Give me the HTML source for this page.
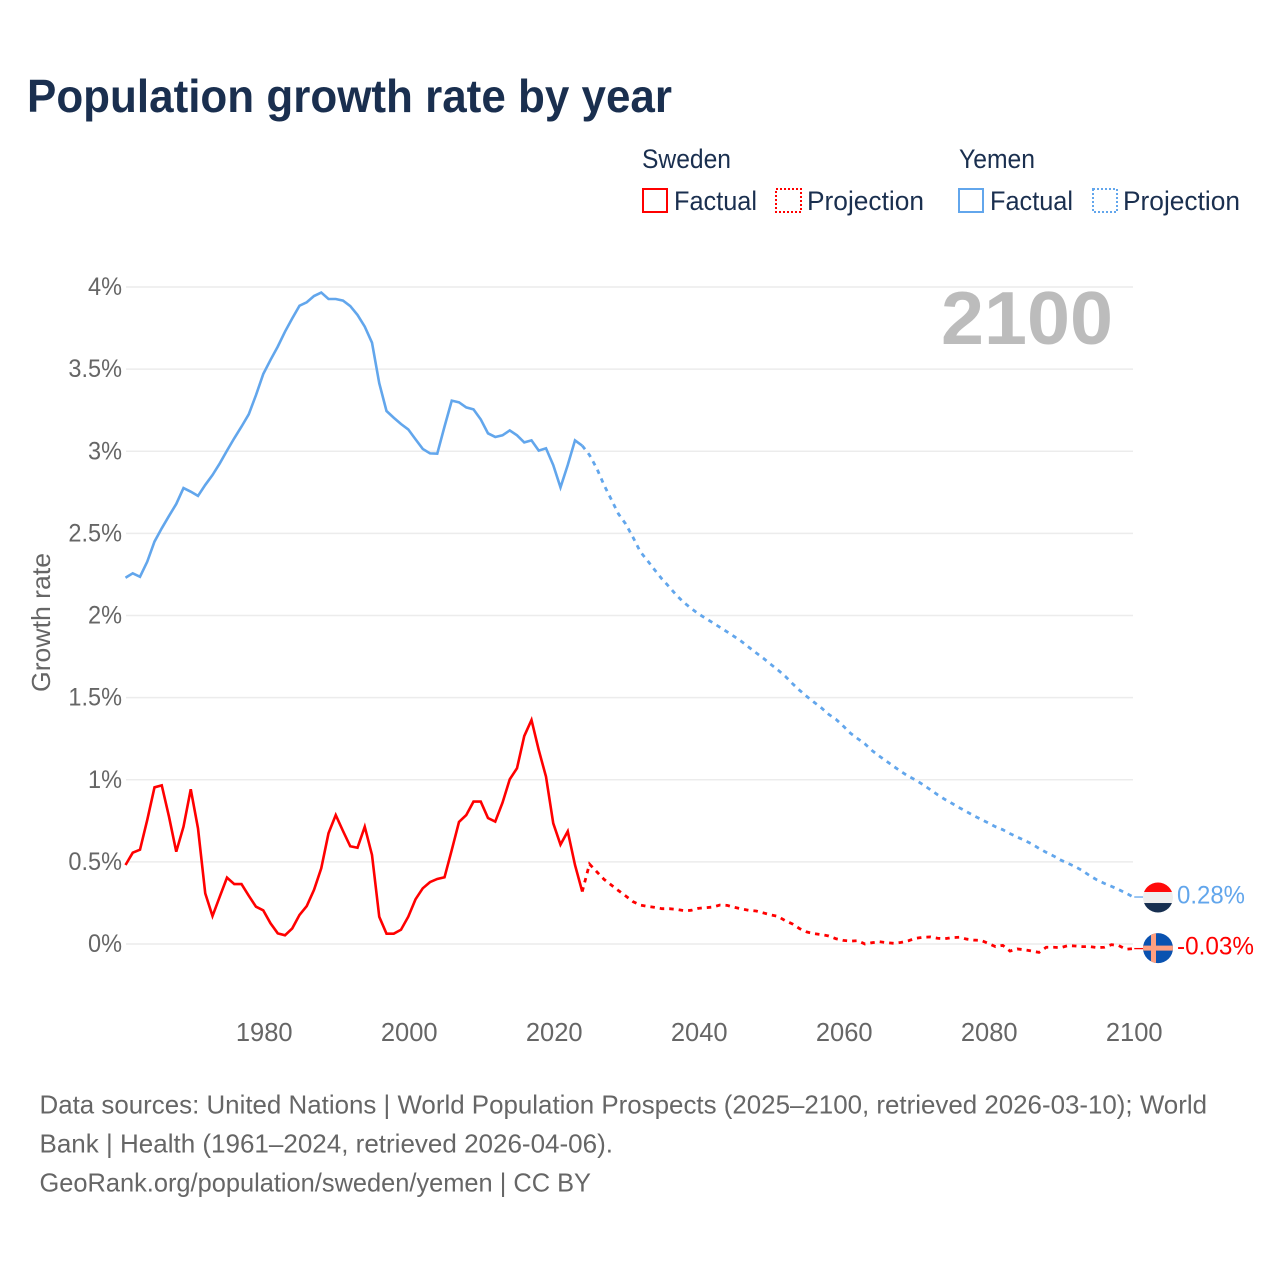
<!DOCTYPE html>
<html lang="en">
<head>
<meta charset="utf-8">
<title>Population growth rate by year</title>
<style>
html,body{margin:0;padding:0;background:#fff;}
svg{display:block;font-family:"Liberation Sans",sans-serif;}
</style>
</head>
<body>
<svg id="chart" xmlns="http://www.w3.org/2000/svg" width="1280" height="1280" viewBox="0 0 1280 1280">
  <rect x="0" y="0" width="1280" height="1280" fill="#ffffff"/>
  <text x="27" y="112" font-size="46" font-weight="700" fill="#1a2f4f" textLength="645" lengthAdjust="spacingAndGlyphs">Population growth rate by year</text>

  <g font-size="26.5" fill="#1a2f4f">
    <text x="642" y="168" textLength="89" lengthAdjust="spacingAndGlyphs">Sweden</text>
    <text x="959" y="168" textLength="76" lengthAdjust="spacingAndGlyphs">Yemen</text>
    <g>
      <rect x="643" y="189" width="24" height="23" fill="none" stroke="#ff0000" stroke-width="2"/>
      <text x="674" y="210" textLength="83" lengthAdjust="spacingAndGlyphs">Factual</text>
    </g>
    <g>
      <rect x="776" y="189" width="25" height="23" fill="none" stroke="#ff0000" stroke-width="2" stroke-dasharray="2 2"/>
      <text x="807" y="210" textLength="117" lengthAdjust="spacingAndGlyphs">Projection</text>
    </g>
    <g>
      <rect x="959" y="189" width="24" height="23" fill="none" stroke="#62a6ec" stroke-width="2"/>
      <text x="990" y="210" textLength="83" lengthAdjust="spacingAndGlyphs">Factual</text>
    </g>
    <g>
      <rect x="1093" y="189" width="24" height="23" fill="none" stroke="#62a6ec" stroke-width="2" stroke-dasharray="2 2"/>
      <text x="1123" y="210" textLength="117" lengthAdjust="spacingAndGlyphs">Projection</text>
    </g>
  </g>

  <g id="grid"></g>
  <g id="yticks"></g>
  <g id="xticks"></g>
  <text transform="translate(50,692) rotate(-90)" font-size="26" fill="#666666" textLength="139" lengthAdjust="spacingAndGlyphs">Growth rate</text>
  <text x="941" y="344" font-size="75" font-weight="700" fill="#bcbcbc" textLength="172" lengthAdjust="spacingAndGlyphs">2100</text>
  <g id="series"></g>
  <g id="ends"></g>

  <g font-size="26" fill="#666666">
    <text x="39.5" y="1113.5" textLength="1167.5" lengthAdjust="spacingAndGlyphs">Data sources: United Nations | World Population Prospects (2025–2100, retrieved 2026-03-10); World</text>
    <text x="39.5" y="1152.5" textLength="573.5" lengthAdjust="spacingAndGlyphs">Bank | Health (1961–2024, retrieved 2026-04-06).</text>
    <text x="39.5" y="1191.5" textLength="551.5" lengthAdjust="spacingAndGlyphs">GeoRank.org/population/sweden/yemen | CC BY</text>
  </g>
</svg>
<script>
const yTickValues = [0, 0.5, 1, 1.5, 2, 2.5, 3, 3.5, 4];
const yTickLabels = ['0%', '0.5%', '1%', '1.5%', '2%', '2.5%', '3%', '3.5%', '4%'];
const xTickValues = [1980, 2000, 2020, 2040, 2060, 2080, 2100];
const xTickLabels = ['1980', '2000', '2020', '2040', '2060', '2080', '2100'];
const factualStartYear = 1961;
const projectionStartYear = 2025;

const yemenFactual = [2.230,2.257,2.236,2.328,2.450,2.531,2.606,2.679,2.776,2.754,2.728,2.795,2.855,2.926,3.004,3.079,3.150,3.225,3.342,3.470,3.556,3.637,3.728,3.809,3.886,3.907,3.945,3.966,3.927,3.927,3.917,3.884,3.830,3.759,3.661,3.414,3.245,3.204,3.166,3.133,3.073,3.014,2.987,2.985,3.150,3.308,3.298,3.267,3.255,3.194,3.109,3.087,3.097,3.127,3.097,3.054,3.066,3.004,3.018,2.916,2.780,2.916,3.066,3.034];
const yemenProjection = [2.977,2.896,2.795,2.707,2.618,2.557,2.476,2.389,2.334,2.277,2.222,2.174,2.123,2.080,2.044,2.011,1.983,1.956,1.928,1.900,1.871,1.841,1.806,1.772,1.739,1.703,1.668,1.630,1.585,1.544,1.506,1.471,1.437,1.398,1.368,1.327,1.283,1.250,1.218,1.177,1.143,1.112,1.080,1.049,1.021,0.998,0.970,0.940,0.909,0.881,0.856,0.830,0.806,0.781,0.759,0.737,0.714,0.696,0.672,0.651,0.631,0.609,0.582,0.558,0.536,0.511,0.491,0.471,0.446,0.416,0.390,0.369,0.351,0.331,0.310,0.286];
const swedenFactual = [0.481,0.556,0.574,0.755,0.954,0.966,0.775,0.562,0.714,0.942,0.704,0.308,0.170,0.288,0.404,0.365,0.365,0.294,0.227,0.205,0.126,0.065,0.053,0.095,0.177,0.231,0.329,0.461,0.674,0.785,0.688,0.595,0.586,0.714,0.542,0.166,0.063,0.063,0.087,0.166,0.272,0.339,0.377,0.396,0.406,0.572,0.743,0.785,0.867,0.867,0.767,0.745,0.860,1.003,1.070,1.266,1.364,1.181,1.019,0.735,0.605,0.686,0.481,0.319];
const swedenProjection = [0.487,0.440,0.394,0.359,0.325,0.292,0.258,0.237,0.229,0.223,0.215,0.215,0.211,0.203,0.205,0.217,0.221,0.225,0.237,0.235,0.223,0.213,0.205,0.201,0.189,0.177,0.168,0.142,0.122,0.093,0.073,0.063,0.057,0.049,0.032,0.022,0.018,0.020,0.000,0.008,0.014,0.008,0.004,0.010,0.020,0.035,0.041,0.043,0.035,0.032,0.039,0.041,0.030,0.024,0.022,0.004,-0.016,-0.008,-0.043,-0.030,-0.035,-0.043,-0.051,-0.020,-0.020,-0.022,-0.010,-0.012,-0.016,-0.016,-0.022,-0.020,-0.004,-0.010,-0.032,-0.028];

const endLabelYemen = '0.28%';
const endLabelSweden = '-0.03%';

const NS = 'http://www.w3.org/2000/svg';
const BLUE = '#62a6ec';
const RED = '#ff0000';

function xScale(year) { return 125.5 + (year - 1961) * 7.25; }
function yScale(value) { return 944 - value * 164.25; }
function make(tag, attrs, parent) {
  const el = document.createElementNS(NS, tag);
  for (const k in attrs) el.setAttribute(k, attrs[k]);
  parent.appendChild(el);
  return el;
}
function linePath(startYear, values) {
  return values.map(function (v, i) {
    return (i ? 'L' : 'M') + xScale(startYear + i).toFixed(2) + ' ' + yScale(v).toFixed(2);
  }).join(' ');
}

const grid = document.getElementById('grid');
const yticks = document.getElementById('yticks');
const xticks = document.getElementById('xticks');
const series = document.getElementById('series');
const ends = document.getElementById('ends');

yTickValues.forEach(function (v, i) {
  const line = make('line', {x1: 126, x2: 1133, y1: yScale(v), y2: yScale(v), stroke: '#ececec', 'stroke-width': 1.6}, grid);
  
  
  const t = make('text', {x: 122, y: yScale(v) + 8, 'text-anchor': 'end', 'font-size': 25, fill: '#666666'}, yticks);
  
  
  t.textContent = yTickLabels[i];
  t.setAttribute('textLength', (t.getComputedTextLength() * 0.94).toFixed(1));
  t.setAttribute('lengthAdjust', 'spacingAndGlyphs');
});

xTickValues.forEach(function (v, i) {
  const t = make('text', {x: xScale(v) + 1, y: 1041, 'text-anchor': 'middle', 'font-size': 25.5, fill: '#666666'}, xticks);
  
  
  t.textContent = xTickLabels[i];
});

function drawSeries(name, color, factual, projection) {
  const solid = make('path', {d: linePath(factualStartYear, factual), fill: 'none', stroke: color, 'stroke-width': 2.6, 'stroke-linejoin': 'miter'}, series);
  
  
  solid.setAttribute('aria-label', name + ' factual');
  const joined = [factual[factual.length - 1]].concat(projection);
  const dashed = make('path', {d: linePath(projectionStartYear - 1, joined), fill: 'none', stroke: color, 'stroke-width': 2.8, 'stroke-dasharray': '4.5 5'}, series);
  
  
  dashed.setAttribute('aria-label', name + ' projection');
  const endValue = projection[projection.length - 1];
  const leader = make('line', {x1: xScale(2100) + 1, x2: xScale(2100) + 10, y1: yScale(endValue), y2: yScale(endValue), stroke: color, 'stroke-width': 1.3}, ends);
  
  
}
drawSeries('Yemen', BLUE, yemenFactual, yemenProjection);
drawSeries('Sweden', RED, swedenFactual, swedenProjection);

const defs = make('defs', {}, ends);
function endFlag(id, cy) {
  const cp = make('clipPath', {id: id}, defs);
  make('circle', {cx: 1158, cy: cy, r: 15}, cp);
  const g = make('g', {'clip-path': 'url(#' + id + ')'}, ends);
  return g;
}

const yemenY = yScale(yemenProjection[yemenProjection.length - 1]);
const swedenY = yScale(swedenProjection[swedenProjection.length - 1]);

const yemenFlag = endFlag('clip-yemen', yemenY + 0.5);


make('rect', {x: 1143, y: yemenY - 15, width: 30, height: 10, fill: '#ff0a0a'}, yemenFlag);
make('rect', {x: 1143, y: yemenY - 5, width: 30, height: 11, fill: '#eeeeee'}, yemenFlag);
make('rect', {x: 1143, y: yemenY + 6, width: 30, height: 10, fill: '#172f50'}, yemenFlag);

const swedenFlag = endFlag('clip-sweden', swedenY - 0.5);


make('rect', {x: 1143, y: swedenY - 16, width: 30, height: 31, fill: '#0a52b0'}, swedenFlag);
make('rect', {x: 1151, y: swedenY - 16, width: 5, height: 31, fill: '#ff9f80'}, swedenFlag);
make('rect', {x: 1143, y: swedenY - 3, width: 30, height: 5, fill: '#ff9f80'}, swedenFlag);

const yemenLabel = make('text', {x: 1177, y: yemenY + 6.5, 'font-size': 25, fill: BLUE, textLength: 68, lengthAdjust: 'spacingAndGlyphs'}, ends);


yemenLabel.textContent = endLabelYemen;

const swedenLabel = make('text', {x: 1177, y: swedenY + 6, 'font-size': 25, fill: RED, textLength: 77, lengthAdjust: 'spacingAndGlyphs'}, ends);


swedenLabel.textContent = endLabelSweden;
</script>
</body>
</html>
